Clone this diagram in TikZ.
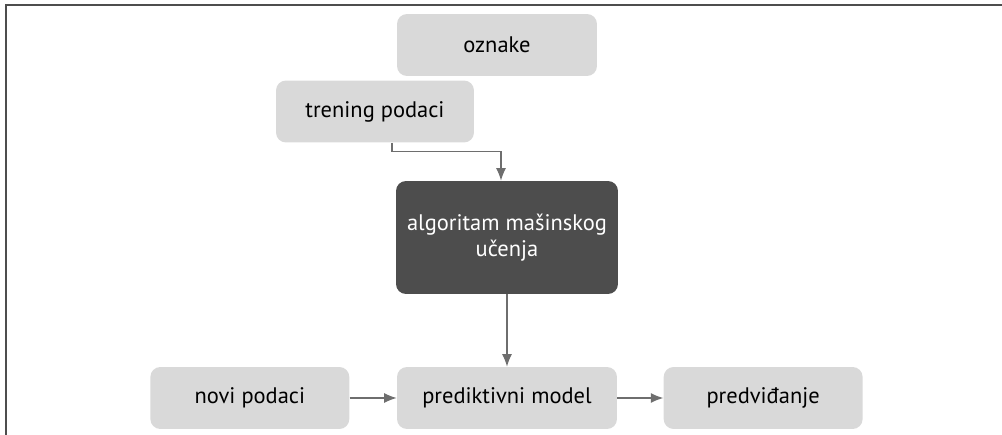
\documentclass[tikz,border=0pt]{standalone}
\usepackage{fontspec}
\setmainfont{PT Sans}
\usepackage{tikz}
\usetikzlibrary{positioning, arrows.meta, calc}
\tikzset{>={Latex[length=2.5mm,width=2mm]}}
\definecolor{boxgray}{HTML}{D9D9D9}
\definecolor{darkbox}{HTML}{4D4D4D}
\definecolor{linegray}{HTML}{6E6E6E}
\tikzset{
    lightbox/.style={fill=boxgray, rounded corners=0.2cm, minimum height=1.24cm, align=center, font=\fontsize{12.8}{14}\selectfont},
    algbox/.style={fill=darkbox, text=white, rounded corners=0.2cm, minimum width=4.44cm, minimum height=2.26cm, align=center, font=\fontsize{12.8}{14.5}\selectfont},
    flow/.style={->, draw=linegray, line width=0.7pt}
}

\begin{document}
\begin{tikzpicture}[x=0.02cm, y=-0.02cm]
    	\useasboundingbox (0,0) rectangle (1002,435);
    	\draw[line width=0.9pt, draw=darkbox] (6,435) -- (6,5) -- (1002,5);

    	\node[lightbox, minimum width=4cm] (oznake) at (497,45) {oznake};
    	\node[lightbox, minimum width=3.96cm] (trening) at (375,111.5) {trening podaci};
    	\node[algbox] (algoritam) at (507,237.5) {algoritam mašinskog\\učenja};
    	\node[lightbox, minimum width=4.4cm] (model) at (507,398) {prediktivni model};
    	\node[lightbox, minimum width=3.98cm, left=0.94cm of model] (novi) {novi podaci};
    	\node[lightbox, minimum width=3.98cm, right=0.92cm of model] (predvidjanje) {predviđanje};

    	\draw[flow] ([xshift=0.34cm]trening.south) -- ++(0,9) -| ([xshift=-0.12cm]algoritam.north);
    	\draw[flow] (algoritam) -- (model);
    	\draw[flow] (novi) -- (model);
    	\draw[flow] (model) -- (predvidjanje);
	\end{tikzpicture}
\end{document}
